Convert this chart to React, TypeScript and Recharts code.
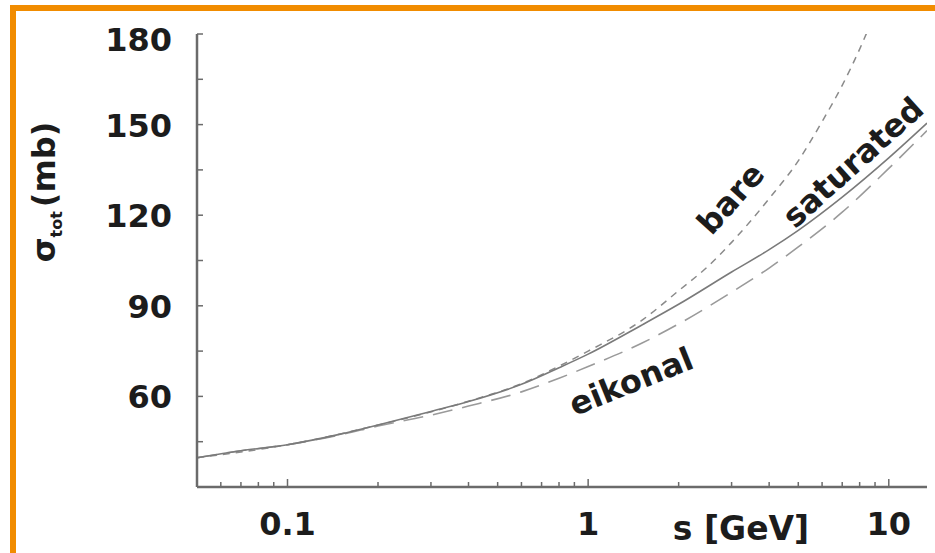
import { LineChart, Line, XAxis, YAxis, ReferenceDot } from "recharts";

// Total cross section vs s on a log axis: bare, saturated and eikonal curves.

const S_GRID = [0.05, 0.07, 0.1, 0.15, 0.2, 0.3, 0.4, 0.6, 0.8, 1, 1.5, 2, 3, 4, 5, 7, 10, 13.4];
const SATURATED = [39.7, 42, 44, 47.5, 50.5, 55, 58.3, 64, 69.5, 74, 83.5, 90.5, 101.2, 108.6, 115, 126, 139, 150.5];
const EIKONAL = [39.7, 42, 44, 47.3, 50.2, 53.8, 56.8, 61.5, 66, 69.9, 77.5, 84, 94.5, 102.5, 109.5, 121, 135.5, 148];

const S_BARE = [0.05, 0.1, 0.2, 0.4, 0.6, 0.8, 1, 1.5, 2, 2.5, 3, 3.5, 4, 5, 6, 7, 8, 9];
const BARE = [39.7, 44, 50.5, 58.4, 64.2, 70, 75, 85, 95, 103, 111, 118.5, 125.5, 138, 151, 163, 175, 187];

const X_TICKS = [
  0.06, 0.07, 0.08, 0.09, 0.1,
  0.2, 0.3, 0.4, 0.5, 0.6, 0.7, 0.8, 0.9, 1,
  2, 3, 4, 5, 6, 7, 8, 9, 10,
];
const X_LABELED = [0.1, 1, 10];
const Y_TICKS = [30, 45, 60, 75, 90, 105, 120, 135, 150, 165, 180];
const Y_LABELED = [60, 90, 120, 150, 180];

const CURVE_NAMES = ["bare", "saturated", "eikonal"];
const NAME_S = [2.98, 7.6, 1.39];
const NAME_V = [125.5, 137.5, 64.9];
const NAME_ANGLE = [-48, -42, -22];

const AXIS = "#6b6b6b";
const INK = "#1c1c1c";
const FONT = '"DejaVu Sans", "Liberation Sans", sans-serif';

const pts = (xs: number[], ys: number[]) => xs.map((x, i) => ({ x, y: ys[i] }));
const saturated = pts(S_GRID, SATURATED);
const eikonal = pts(S_GRID, EIKONAL);
const bare = pts(S_BARE, BARE);

function BottomTick({ x, y, payload }: any) {
  const major = X_LABELED.includes(payload.value);
  return (
    <g>
      <line x1={x} x2={x} y1={y} y2={y - (major ? 8 : 5)} stroke={AXIS} strokeWidth={1.5} />
      {major && (
        <text x={x} y={y + 37} textAnchor="middle" dominantBaseline="central"
          fontFamily={FONT} fontWeight="bold" fontSize={32} fill={INK}>
          {payload.value}
        </text>
      )}
    </g>
  );
}

function TopTick({ x, y, payload }: any) {
  const major = X_LABELED.includes(payload.value);
  return <line x1={x} x2={x} y1={y} y2={y + (major ? 8 : 5)} stroke={AXIS} strokeWidth={1.5} />;
}

function LeftTick({ x, y, payload }: any) {
  const labeled = Y_LABELED.includes(payload.value);
  return (
    <g>
      <line x1={x} x2={x + 6} y1={y} y2={y} stroke={AXIS} strokeWidth={1.5} />
      {labeled && (
        <text x={x - 25} y={Math.max(y + 1, 40)} textAnchor="end" dominantBaseline="central"
          fontFamily={FONT} fontWeight="bold" fontSize={32} fill={INK}>
          {payload.value}
        </text>
      )}
    </g>
  );
}

function RightTick({ x, y }: any) {
  return <line x1={x} x2={x - 6} y1={y} y2={y} stroke={AXIS} strokeWidth={1.5} />;
}

function YTitle() {
  return (
    <text transform="translate(55,192) rotate(-90)" textAnchor="middle"
      fontFamily={FONT} fontWeight="bold" fontSize={32} fill={INK}>
      σ<tspan fontSize={16} dy={7}>tot</tspan>
      <tspan dy={-7} dx={4}>(mb)</tspan>
    </text>
  );
}

function XTitle() {
  return (
    <text x={741} y={540} textAnchor="middle"
      fontFamily={FONT} fontWeight="bold" fontSize={33} fill={INK}>
      s [GeV]
    </text>
  );
}

function CurveName({ viewBox, caption, rot }: any) {
  const cx = viewBox.x + viewBox.width / 2;
  const cy = viewBox.y + viewBox.height / 2;
  return (
    <text x={cx} y={cy} transform={`rotate(${rot}, ${cx}, ${cy})`} textAnchor="middle"
      dominantBaseline="central" fontFamily={FONT} fontWeight="bold" fontSize={32} fill={INK}>
      {caption}
    </text>
  );
}

export default function App() {
  return (
    <div style={{ position: "absolute", left: 0, top: 0, width: 935, height: 553, overflow: "hidden", background: "#fff" }}>
      <div style={{ position: "absolute", left: 10, top: 5, width: 960, height: 600, border: "6px solid #f18c00", boxSizing: "border-box" }} />
      <div style={{ position: "absolute", left: 0, top: 0 }}>
        <LineChart width={935} height={553} margin={{ top: 34, right: 8, bottom: 0, left: 0 }}>
          <XAxis
            type="number" dataKey="x" scale="log" domain={[0.05, 13.4]} allowDataOverflow
            ticks={X_TICKS} interval={0} height={66} tickSize={0} tickMargin={0} tickLine={false}
            tick={<BottomTick />} axisLine={{ stroke: AXIS, strokeWidth: 2.5 }}
            label={<XTitle />}
          />
          <XAxis
            xAxisId="top" orientation="top" type="number" dataKey="x" scale="log" domain={[0.05, 13.4]}
            allowDataOverflow ticks={X_TICKS} interval={0} height={0} tickSize={0} tickMargin={0}
            tickLine={false} tick={<TopTick />} axisLine={{ stroke: AXIS, strokeWidth: 2.5 }}
          />
          <YAxis
            type="number" domain={[30, 180]} allowDataOverflow ticks={Y_TICKS} interval={0}
            width={197} tickSize={0} tickMargin={0} tickLine={false} tick={<LeftTick />}
            axisLine={{ stroke: AXIS, strokeWidth: 2.5 }} label={<YTitle />}
          />
          <YAxis
            yAxisId="right" orientation="right" type="number" domain={[30, 180]} allowDataOverflow
            ticks={Y_TICKS} interval={0} width={0} tickSize={0} tickMargin={0} tickLine={false}
            tick={<RightTick />} axisLine={{ stroke: AXIS, strokeWidth: 2.5 }}
          />
          <Line data={bare} dataKey="y" type="monotone" stroke="#8a8a8a" strokeWidth={1.5}
            strokeDasharray="7 6" dot={false} isAnimationActive={false} />
          <Line data={eikonal} dataKey="y" type="monotone" stroke="#9a9a9a" strokeWidth={1.6}
            strokeDasharray="20 10" dot={false} isAnimationActive={false} />
          <Line data={saturated} dataKey="y" type="monotone" stroke="#7a7a7a" strokeWidth={1.6}
            dot={false} isAnimationActive={false} />
          {CURVE_NAMES.map((name, i) => (
            <ReferenceDot key={name} x={NAME_S[i]} y={NAME_V[i]} r={0} fill="none" stroke="none"
              label={<CurveName caption={name} rot={NAME_ANGLE[i]} />} />
          ))}
        </LineChart>
      </div>
    </div>
  );
}
